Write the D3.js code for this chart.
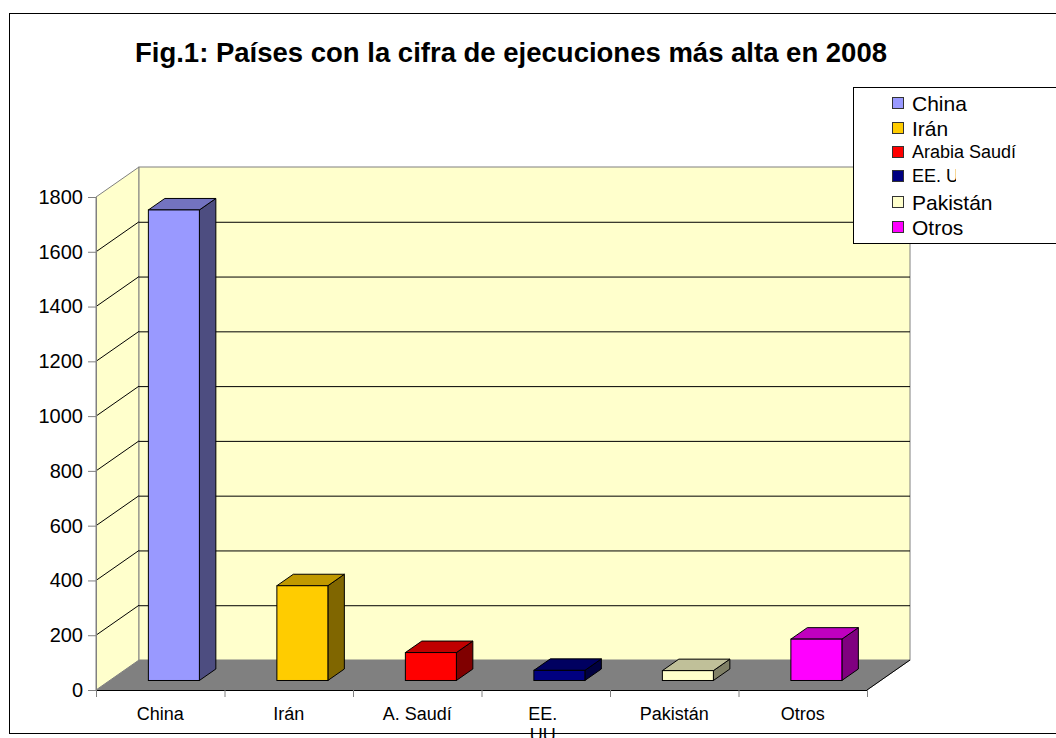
<!DOCTYPE html>
<html><head><meta charset="utf-8">
<script src="https://cdn.jsdelivr.net/npm/d3@7"></script>
<style>
html,body{margin:0;padding:0;background:#fff;}
svg{display:block;font-family:"Liberation Sans",Arial,sans-serif;}
</style></head>
<body><svg id="c" width="1056" height="738"></svg>
<script>
const title = "Fig.1: Países con la cifra de ejecuciones más alta en 2008";
const categories = ["China","Irán","A. Saudí","EE. UU","Pakistán","Otros"];
const xTickLabels = [["China"],["Irán"],["A. Saudí"],["EE.","UU"],["Pakistán"],["Otros"]];
const legendLabels = ["China","Irán","Arabia Saudí","EE. UU","Pakistán","Otros"];
const values = [1718, 346, 102, 37, 36, 151];
const yTicks = [0,200,400,600,800,1000,1200,1400,1600,1800];
const frontColors = ["#9999FF","#FFCC00","#FF0000","#000080","#FFFFCC","#FF00FF"];
const topColors   = ["#7373C0","#C09900","#C00000","#000060","#C0C099","#C000C0"];
const sideColors  = ["#4D4D80","#806600","#800000","#000040","#808066","#800080"];

const svg = d3.select("#c");
const X0 = 96, X1 = 867, DX = 43, DY = -30;
const y = d3.scaleLinear().domain([0,1800]).range([690,197]);
const x = d3.scaleBand().domain(categories).range([X0,X1]).paddingInner(0.603).paddingOuter(0.3015);
const xb = d3.scaleLinear().domain([0,categories.length]).range([X0,X1]);
const f1 = 0.317, f2 = 0.70;

// outer frame
svg.append("rect").attr("x",9.5).attr("y",13.5).attr("width",1060).attr("height",720)
  .attr("fill","#fff").attr("stroke","#000").attr("stroke-width",1);

// title
svg.append("text").attr("x",511).attr("y",62).attr("text-anchor","middle")
  .attr("font-size",27.5).attr("font-weight","bold").text(title);

const y0 = y(0), yT = y(1800);
// floor
svg.append("polygon").attr("points",[[X0,y0],[X1,y0],[X1+DX,y0+DY],[X0+DX,y0+DY]].join(" "))
  .attr("fill","#808080").attr("stroke","#808080");
// left wall
svg.append("polygon").attr("points",[[X0,y0],[X0+DX,y0+DY],[X0+DX,yT+DY],[X0,yT]].join(" "))
  .attr("fill","#FFFFCC").attr("stroke","#808080");
// back wall
svg.append("rect").attr("x",X0+DX).attr("y",yT+DY).attr("width",X1-X0).attr("height",y0-yT)
  .attr("fill","#FFFFCC").attr("stroke","#808080");
// gridlines
const grid = yTicks.filter(v=>v>0 && v<1800);
svg.append("g").selectAll("line.h").data(grid).join("line")
  .attr("x1",X0+DX).attr("x2",X1+DX).attr("y1",d=>y(d)+DY+0.5).attr("y2",d=>y(d)+DY+0.5)
  .attr("stroke","#000");
svg.append("g").selectAll("line.d").data(grid).join("line")
  .attr("x1",X0).attr("x2",X0+DX).attr("y1",d=>y(d)).attr("y2",d=>y(d)+DY)
  .attr("stroke","#000");
// floor front edge
svg.append("line").attr("x1",X0).attr("x2",X1).attr("y1",y0+0.5).attr("y2",y0+0.5).attr("stroke","#000");
svg.append("line").attr("x1",X1).attr("x2",X1+DX).attr("y1",y0).attr("y2",y0+DY).attr("stroke","#000");

// bars
const ox1 = DX*f1, oy1 = DY*f1, ddx = DX*(f2-f1), ddy = DY*(f2-f1);
const bars = svg.append("g").selectAll("g").data(values).join("g");
bars.each(function(v,i){
  const g = d3.select(this);
  const xl = x(categories[i]) + ox1, xr = xl + x.bandwidth();
  const yt = y(v) + oy1, yb = y(0) + oy1;
  g.append("polygon").attr("points",[[xr,yt],[xr+ddx,yt+ddy],[xr+ddx,yb+ddy],[xr,yb]].join(" "))
    .attr("fill",sideColors[i]).attr("stroke","#000").attr("stroke-linejoin","round");
  g.append("polygon").attr("points",[[xl,yt],[xr,yt],[xr+ddx,yt+ddy],[xl+ddx,yt+ddy]].join(" "))
    .attr("fill",topColors[i]).attr("stroke","#000").attr("stroke-linejoin","round");
  g.append("rect").attr("x",xl).attr("y",yt).attr("width",xr-xl).attr("height",yb-yt)
    .attr("fill",frontColors[i]).attr("stroke","#000");
});

// y axis
const ya = svg.append("g").attr("transform",`translate(${X0},0)`)
  .call(d3.axisLeft(y).tickValues(yTicks).tickSize(8).tickPadding(5).tickFormat(d3.format("d")));
ya.select(".domain").attr("stroke","#808080");
ya.selectAll(".tick line").attr("stroke","#808080");
ya.selectAll("text").attr("font-size",20).attr("font-family","Liberation Sans, Arial, sans-serif").attr("fill","#000");

// x axis ticks at boundaries
const xa = svg.append("g").attr("transform",`translate(0,${y0})`)
  .call(d3.axisBottom(xb).ticks(categories.length).tickSize(7).tickFormat(""));
xa.select(".domain").remove();
xa.selectAll(".tick line").attr("stroke","#808080");
// x labels
const xl = svg.append("g").selectAll("text").data(categories).join("text")
  .attr("x",d=>x(d)+x.bandwidth()/2).attr("y",720).attr("text-anchor","middle")
  .attr("font-size",18);
xl.each(function(d,i){
  const t = d3.select(this);
  xTickLabels[i].forEach((line,j)=>{
    t.append("tspan").attr("x",x(d)+x.bandwidth()/2 - (xTickLabels[i].length>1?3:0)).attr("dy",j===0?0:20.5).text(line);
  });
});

// frame bottom redraw over wrapped label
svg.append("line").attr("x1",9.5).attr("x2",1056).attr("y1",733.5).attr("y2",733.5).attr("stroke","#000");

// legend
const lg = svg.append("g");
lg.append("rect").attr("x",853.5).attr("y",87.5).attr("width",220).attr("height",156)
  .attr("fill","#fff").attr("stroke","#000");
const rowsY = [103,128,152,176,202,227];
const legFont = [21,21,18,18,21,21];
svg.append("defs").append("clipPath").attr("id","clipEE").append("rect")
  .attr("x",900).attr("y",160).attr("width",56).attr("height",30);
legendLabels.forEach((lab,i)=>{
  lg.append("rect").attr("x",892.5).attr("y",rowsY[i]-5.5).attr("width",11).attr("height",11)
    .attr("fill",frontColors[i]).attr("stroke","#333");
  const t = lg.append("text").attr("x",912).attr("y",rowsY[i]).attr("dy","0.36em")
    .attr("font-size",legFont[i]).text(lab);
  if (i===3) t.attr("clip-path","url(#clipEE)");
});
</script></body></html>
